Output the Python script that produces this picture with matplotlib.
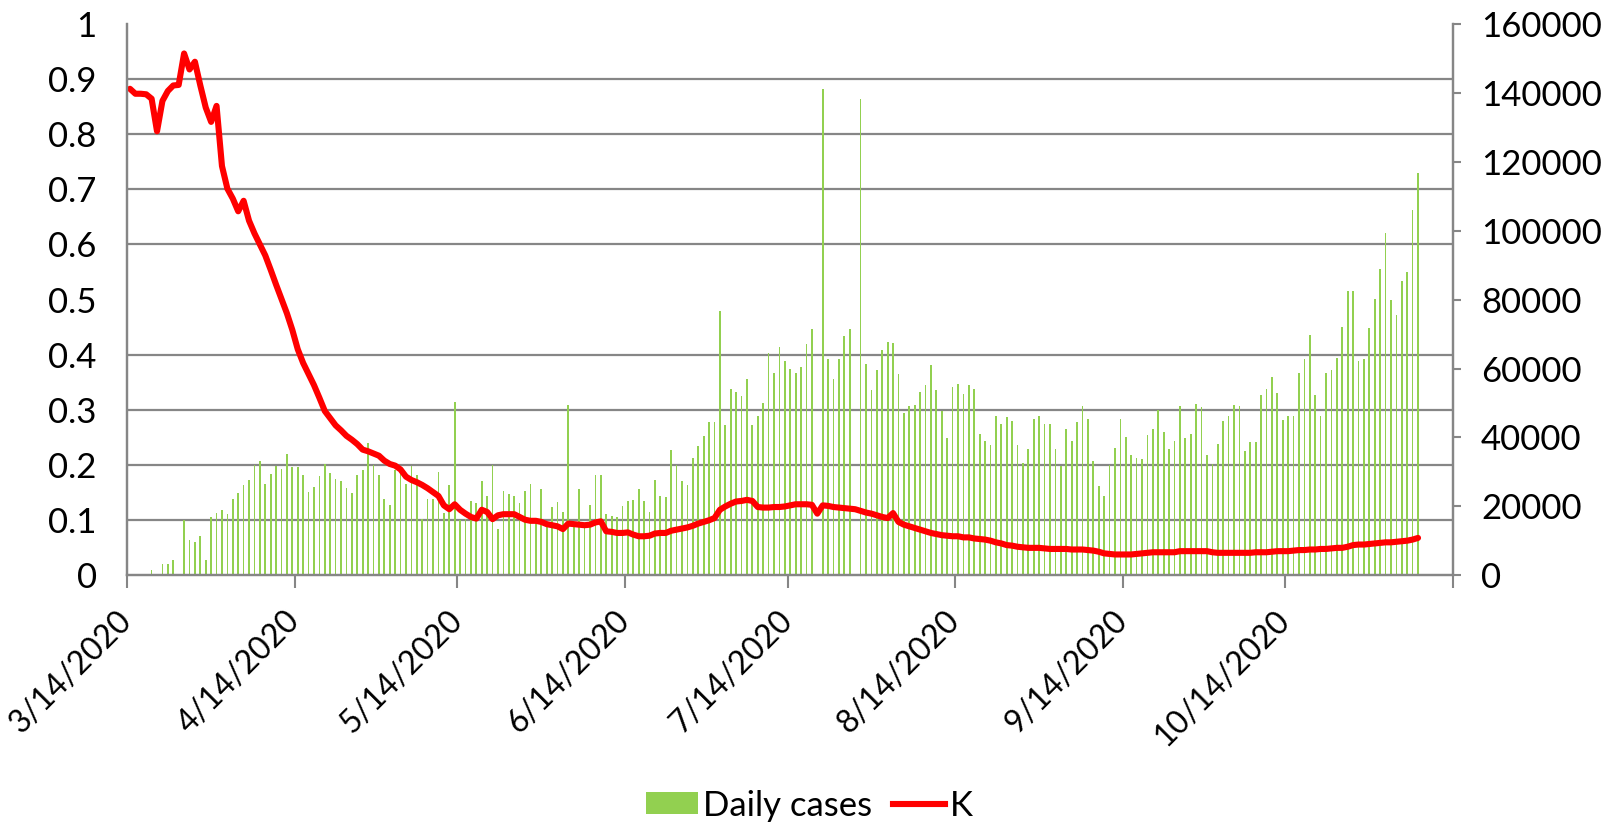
import matplotlib
matplotlib.use("Agg")
import matplotlib.pyplot as plt
import matplotlib.dates as mdates
from matplotlib.ticker import MultipleLocator, FuncFormatter
from matplotlib.patches import Patch
from matplotlib.lines import Line2D
import numpy as np
import pandas as pd

plt.rcParams['font.family'] = ['Lato', 'DejaVu Sans']

# daily new cases (right axis), one value per day starting 3/14/2020
cases = [
    0, 500, 0, 0, 1700, 0, 3400, 3200, 4500, 0,
    16200, 10400, 9600, 11400, 4500, 16900, 18000, 19100, 17800, 22300,
    23900, 26200, 27800, 31900, 33200, 26400, 29400, 31700, 30800, 35200,
    31400, 31400, 29100, 24300, 25700, 28700, 32400, 29800, 28100, 27500,
    25500, 23900, 29000, 30500, 38400, 31900, 29000, 22300, 20400, 30600,
    29400, 26600, 31600, 29200, 16400, 22300, 22300, 30100, 18000, 26200,
    50300, 16000, 16500, 21700, 21100, 27400, 23000, 31900, 13500, 24500,
    23500, 23100, 20900, 24500, 26400, 16000, 25000, 15500, 19900, 21400,
    18300, 49500, 15000, 25000, 15000, 20400, 29100, 29100, 17800, 17200,
    17000, 20200, 21700, 22000, 25200, 21700, 18300, 27800, 23100, 22800,
    36500, 32100, 27500, 26300, 34100, 37500, 40400, 44400, 44400, 76700,
    43600, 54100, 53100, 52000, 56900, 43700, 46100, 50100, 64600, 58800,
    66100, 62200, 60000, 58700, 60500, 67200, 71400, 0, 141200, 62700,
    57100, 62700, 69400, 71600, 0, 138100, 61300, 53800, 59500, 65400,
    67700, 67400, 58300, 47100, 49000, 49500, 53200, 55200, 61000, 53700,
    47700, 39800, 54600, 55600, 52700, 55200, 54100, 40900, 38900, 37800,
    46100, 43900, 45900, 44800, 37800, 32700, 36700, 45300, 46100, 43800,
    43800, 36700, 31800, 42500, 39100, 44400, 49000, 45300, 33200, 25900,
    23100, 31900, 37000, 45400, 40000, 35000, 34100, 33900, 40600, 42400,
    47900, 41500, 36600, 39000, 49000, 39900, 41000, 49800, 48800, 35000,
    32400, 38200, 44700, 46100, 49400, 49000, 36000, 38800, 38800, 52200,
    54000, 57500, 52800, 45200, 46100, 46100, 58800, 62700, 69600, 52300,
    46100, 58800, 59700, 63100, 72100, 82400, 82400, 62200, 62900, 71800,
    80200, 88800, 99200, 79900, 75600, 85300, 88100, 105900, 116600,
]

# K (left axis)
K = [
    0.882, 0.873, 0.873, 0.872, 0.864, 0.805, 0.860, 0.878, 0.888, 0.889,
    0.946, 0.917, 0.931, 0.888, 0.848, 0.822, 0.851, 0.742, 0.701, 0.683,
    0.660, 0.679, 0.643, 0.620, 0.600, 0.580, 0.554, 0.527, 0.501, 0.475,
    0.445, 0.410, 0.385, 0.365, 0.345, 0.322, 0.298, 0.285, 0.272, 0.263,
    0.253, 0.246, 0.238, 0.228, 0.225, 0.221, 0.217, 0.208, 0.202, 0.199,
    0.192, 0.179, 0.173, 0.169, 0.164, 0.158, 0.151, 0.144, 0.127, 0.120,
    0.129, 0.119, 0.112, 0.106, 0.103, 0.119, 0.115, 0.102, 0.109, 0.111,
    0.111, 0.111, 0.106, 0.101, 0.099, 0.099, 0.097, 0.093, 0.091, 0.089,
    0.084, 0.094, 0.093, 0.092, 0.091, 0.092, 0.096, 0.098, 0.080, 0.079,
    0.077, 0.077, 0.078, 0.074, 0.071, 0.071, 0.072, 0.076, 0.077, 0.077,
    0.081, 0.083, 0.085, 0.087, 0.090, 0.094, 0.097, 0.100, 0.104, 0.119,
    0.125, 0.130, 0.134, 0.135, 0.137, 0.135, 0.124, 0.123, 0.123, 0.124,
    0.124, 0.125, 0.127, 0.129, 0.129, 0.129, 0.128, 0.112, 0.127, 0.126,
    0.124, 0.123, 0.122, 0.121, 0.120, 0.117, 0.114, 0.112, 0.109, 0.106,
    0.104, 0.113, 0.097, 0.092, 0.089, 0.086, 0.083, 0.080, 0.077, 0.075,
    0.073, 0.072, 0.071, 0.071, 0.069, 0.069, 0.067, 0.066, 0.065, 0.063,
    0.060, 0.058, 0.055, 0.054, 0.052, 0.051, 0.050, 0.050, 0.050, 0.049,
    0.048, 0.048, 0.048, 0.048, 0.047, 0.047, 0.047, 0.046, 0.045, 0.043,
    0.040, 0.039, 0.038, 0.038, 0.038, 0.038, 0.039, 0.040, 0.041, 0.042,
    0.042, 0.042, 0.042, 0.042, 0.044, 0.044, 0.044, 0.044, 0.044, 0.044,
    0.042, 0.041, 0.041, 0.041, 0.041, 0.041, 0.041, 0.041, 0.042, 0.042,
    0.042, 0.043, 0.044, 0.044, 0.044, 0.045, 0.046, 0.046, 0.047, 0.047,
    0.048, 0.048, 0.049, 0.050, 0.050, 0.052, 0.055, 0.056, 0.056, 0.057,
    0.058, 0.059, 0.060, 0.060, 0.061, 0.062, 0.063, 0.065, 0.068,
]

start_date = "2020-03-14"
tick_dates = [pd.Timestamp(2020, m, 14) for m in range(3, 12)]

GRAY = "#868686"
GREEN = "#92D050"
RED = "#FF0000"
FS = 25

dates = pd.date_range(start_date, periods=len(cases), freq="D")
x = mdates.date2num(dates) + 0.5

fig = plt.figure(figsize=(16.19, 8.25), dpi=100)
ax = fig.add_axes([0.0786, 0.3025, 0.8190, 0.6688])
ax2 = ax.twinx()
ax.set_zorder(ax2.get_zorder() + 1)
ax.patch.set_visible(False)

ax2.bar(x, cases, width=0.32, color=GREEN, zorder=2)
ax.plot(x, K, color=RED, lw=4.4, solid_joinstyle="round", solid_capstyle="round")

ax.set_xlim(mdates.date2num(tick_dates[0]), mdates.date2num(tick_dates[-1]))
ax.set_ylim(0, 1)
ax2.set_ylim(0, 160000)

# horizontal gridlines (every 0.1 of K) drawn on the bar axis so they stay behind
ax2.yaxis.set_minor_locator(MultipleLocator(16000))
ax2.grid(which="minor", axis="y", color=GRAY, lw=1.6)
ax2.grid(which="major", axis="both", visible=False)
ax2.set_axisbelow(True)

ax.set_yticks(np.arange(0, 1.01, 0.1))
ax.yaxis.set_major_formatter(FuncFormatter(lambda v, p: "{:g}".format(round(v, 1))))
ax.tick_params(axis="y", length=0, pad=22, labelsize=FS)

ax2.set_yticks(np.arange(0, 160001, 20000))
ax2.yaxis.set_major_formatter(FuncFormatter(lambda v, p: "{:d}".format(int(v))))
ax2.tick_params(axis="y", which="major", direction="out", length=6, width=1.5,
                color=GRAY, pad=14, labelsize=FS)
ax2.tick_params(axis="y", which="minor", length=0)

ax.set_xticks(mdates.date2num(tick_dates))
labels = ["{}/{}/{}".format(d.month, d.day, d.year) for d in tick_dates]
labels[-1] = ""
ax.set_xticklabels(labels, rotation=45, ha="right", rotation_mode="anchor", va="center")
ax.tick_params(axis="x", direction="out", length=9, width=1.5, color=GRAY, pad=20, labelsize=23)

for a in (ax, ax2):
    a.spines["top"].set_visible(False)
    for s in ("left", "right", "bottom"):
        a.spines[s].set_color(GRAY)
        a.spines[s].set_linewidth(1.6)

handles = [Patch(facecolor=GREEN, edgecolor="none", label="Daily cases"),
           Line2D([0], [0], color=RED, lw=4.4, label="K")]
fig.legend(handles=handles, loc="lower center", bbox_to_anchor=(0.5, 0.0), ncol=2,
           frameon=False, fontsize=FS, handlelength=1.5, handleheight=0.6,
           handletextpad=0.15, columnspacing=0.6, borderaxespad=0, borderpad=0.1)

fig.savefig("out.png", dpi=100)
